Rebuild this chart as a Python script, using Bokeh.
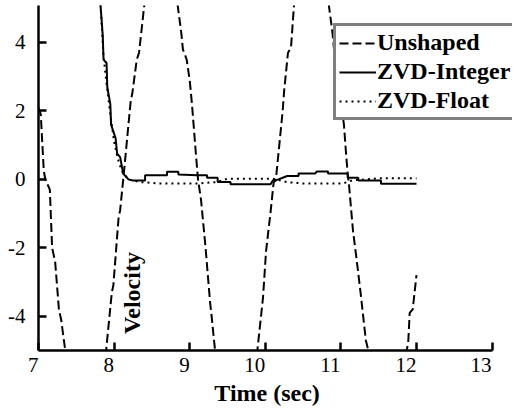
import math
from bokeh.plotting import figure
from bokeh.models import Legend, LegendItem, Label, FixedTicker
from bokeh.embed import file_html
from bokeh.resources import INLINE

# ---- data ----
x_ticks = [7, 8, 9, 10, 11, 12, 13]
y_ticks = [-4, -2, 0, 2, 4]
y_tick_labels = ["-4", "-2", "0", "2", "4"]

unshaped_t = [7.00, 7.03, 7.07, 7.09, 7.15, 7.18, 7.22, 7.27, 7.30, 7.36,
              7.63,
              7.89, 7.97, 7.99, 8.06, 8.08, 8.13, 8.22, 8.24, 8.30, 8.33, 8.40,
              8.62,
              8.84, 8.89, 8.91, 8.96, 9.00, 9.03, 9.08, 9.11, 9.15, 9.21, 9.27, 9.29, 9.34,
              9.61,
              9.89, 9.97, 10.01, 10.07, 10.11, 10.14, 10.23, 10.25, 10.30, 10.34, 10.38,
              10.61,
              10.84, 10.89, 10.91, 11.04, 11.07, 11.09, 11.11, 11.16, 11.20, 11.23, 11.26, 11.33,
              11.61,
              11.89, 11.91, 11.95, 12.00]
unshaped_v = [2.1, 1.9, 0.25, 0.0, -0.3, -2.0, -2.4, -3.8, -4.1, -5.1,
              -7.3,
              -5.1, -3.3, -3.1, -1.1, -0.9, 0.2, 2.3, 2.5, 3.5, 3.7, 5.1,
              7.3,
              5.1, 4.26, 3.8, 3.5, 2.9, 2.2, 0.8, 0.0, -0.6, -2.0, -3.6, -4.0, -5.1,
              -7.3,
              -5.1, -3.45, -2.1, -0.95, -0.1, 0.0, 2.0, 2.6, 3.7, 3.85, 5.1,
              7.3,
              5.1, 4.26, 3.77, 1.6, 0.7, 0.17, -0.23, -1.5, -2.2, -2.75, -3.3, -4.7,
              -7.3,
              -4.8, -3.9, -3.8, -2.8]

integer_t = [7.82, 7.85, 7.86, 7.90, 7.91, 7.95, 7.96, 8.02, 8.04, 8.08, 8.12, 8.19,
             8.24, 8.41, 8.41, 8.70, 8.70, 8.85, 8.85, 9.10, 9.23, 9.23, 9.37, 9.37,
             9.54, 9.54, 10.07, 10.10, 10.14, 10.29, 10.31, 10.44, 10.44, 10.66, 10.68,
             10.83, 10.83, 11.09, 11.09, 11.23, 11.23, 11.53, 11.53, 12.00]
integer_v = [5.1, 4.2, 3.5, 3.4, 2.7, 2.2, 1.6, 1.2, 0.75, 0.65, 0.17, 0.0,
             -0.03, -0.03, 0.12, 0.12, 0.22, 0.22, 0.14, 0.12, 0.12, 0.05, 0.05, -0.08,
             -0.08, -0.14, -0.14, -0.03, -0.03, 0.1, 0.1, 0.1, 0.17, 0.17, 0.23,
             0.23, 0.17, 0.17, 0.05, 0.05, -0.03, -0.03, -0.13, -0.13]

float_t = [7.82, 7.86, 7.90, 7.95, 8.00, 8.05, 8.10, 8.19, 8.35, 8.60, 9.10,
           9.35, 9.50, 10.10, 10.29, 10.50, 11.03, 11.15, 11.50, 12.00]
float_v = [5.1, 3.6, 2.8, 1.9, 1.1, 0.6, 0.25, 0.0, -0.08, -0.12, -0.12,
           -0.08, 0.02, 0.02, -0.08, -0.12, -0.12, -0.03, 0.03, 0.03]

FONT = "Liberation Serif"
FIG = "\u2007"  # figure space: pads labels so their text ends at the tick

p = figure(width=512, height=412, x_range=(7, 13.27), y_range=(-5, 5.08),
           output_backend="svg", toolbar_location=None,
           min_border_left=38, min_border_right=0, min_border_top=5, min_border_bottom=62)
p.outline_line_color = None
p.xgrid.visible = False
p.ygrid.visible = False
p.background_fill_color = "white"
p.border_fill_color = "white"

r_un = p.line(unshaped_t, unshaped_v, line_color="black", line_width=2, line_dash="9 4")
r_int = p.line(integer_t, integer_v, line_color="black", line_width=2)
r_fl = p.line(float_t, float_v, line_color="black", line_width=2, line_dash="2 4")

for ax in (p.xaxis[0], p.yaxis[0]):
    ax.axis_line_width = 2.5
    ax.axis_line_color = "black"
    ax.major_tick_line_width = 2.5
    ax.major_tick_line_color = "black"
    ax.major_tick_in = 8
    ax.major_tick_out = 0
    ax.minor_tick_line_color = None
    ax.major_label_text_font = FONT
    ax.major_label_text_font_size = "21px"
    ax.major_label_text_color = "black"

p.xaxis[0].bounds = (7, 13)
p.xaxis[0].ticker = FixedTicker(ticks=x_ticks)
p.xaxis[0].major_label_overrides = {t: str(t) + FIG * len(str(t)) for t in x_ticks}
p.yaxis[0].ticker = FixedTicker(ticks=y_ticks)
p.yaxis[0].major_label_overrides = dict(zip(y_ticks, y_tick_labels))
p.xaxis[0].major_label_standoff = 2
p.yaxis[0].major_label_standoff = 13

p.xaxis[0].axis_label = "Time (sec)" + FIG + "\u2009"
p.xaxis[0].axis_label_text_font = FONT
p.xaxis[0].axis_label_text_font_style = "bold"
p.xaxis[0].axis_label_text_font_size = "24px"
p.xaxis[0].axis_label_text_color = "black"
p.xaxis[0].axis_label_standoff = 0

vel = Label(x=8.243, y=-3.32, text="Velocity", angle=math.pi / 2,
            text_align="center", text_baseline="middle",
            text_font=FONT, text_font_style="bold", text_font_size="24px",
            text_color="black")
p.add_layout(vel)

legend = Legend(items=[LegendItem(label="Unshaped", renderers=[r_un]),
                       LegendItem(label="ZVD-Integer", renderers=[r_int]),
                       LegendItem(label="ZVD-Float", renderers=[r_fl])],
                location=(295, 230))
legend.border_line_color = "black"
legend.border_line_width = 3
legend.background_fill_color = "white"
legend.background_fill_alpha = 1
legend.label_text_font = FONT
legend.label_text_font_style = "bold"
legend.label_text_font_size = "24px"
legend.label_text_color = "black"
legend.glyph_width = 37
legend.glyph_height = 26
legend.label_height = 26
legend.label_standoff = 1
legend.spacing = 2
legend.padding = 3
legend.margin = 0
p.add_layout(legend)

open("out.html", "w").write(file_html(p, INLINE))
